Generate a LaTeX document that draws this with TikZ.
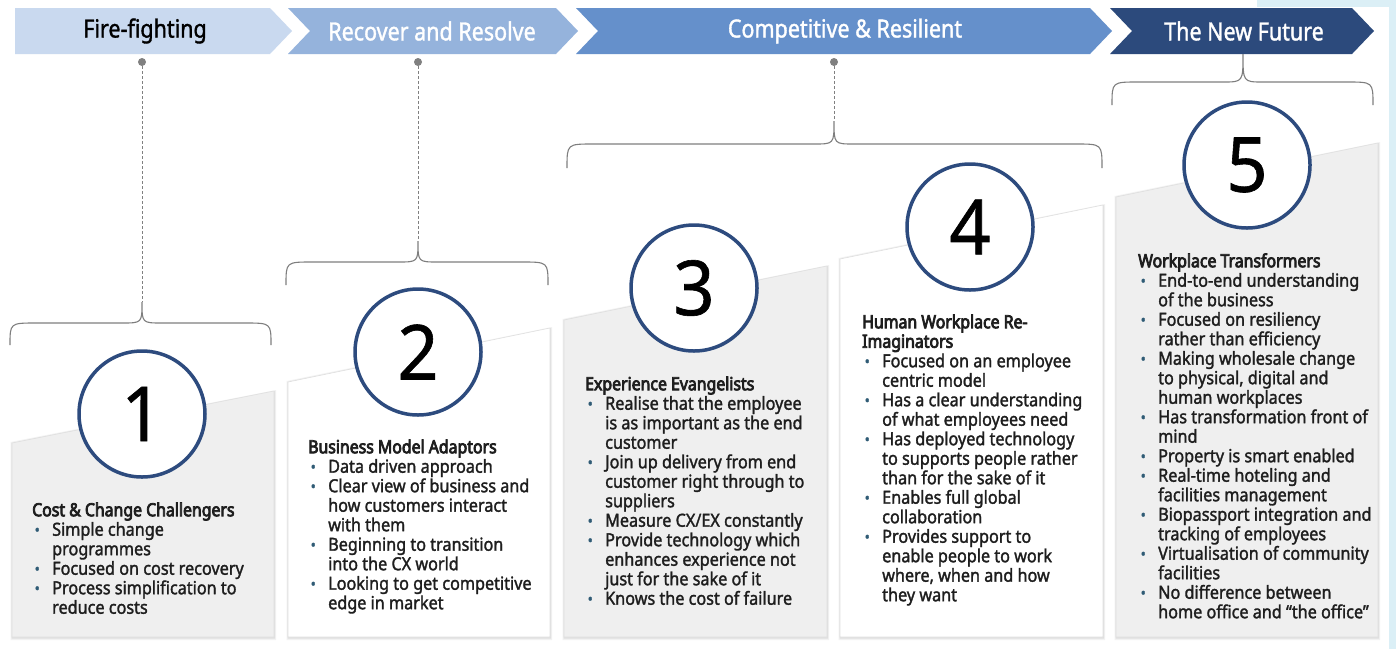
\documentclass[tikz,border=0pt]{standalone}
\usepackage{fontspec}
\setmainfont{Noto Sans}
\newfontfamily\bodyfont{Noto Sans}[FakeStretch=0.9]
\newfontfamily\titlefont{Noto Sans}[FakeStretch=0.88]
\newfontfamily\bannerfont{Noto Sans}[FakeStretch=0.86]
\newfontfamily\numfont{Noto Sans}[FakeStretch=0.95]

\definecolor{chevA}{HTML}{C9D9EF}
\definecolor{chevB}{HTML}{95B3DC}
\definecolor{chevC}{HTML}{6590CB}
\definecolor{chevD}{HTML}{2C4A7C}
\definecolor{ringc}{HTML}{2D4B7E}
\definecolor{cardg}{HTML}{EFEFEF}
\definecolor{edgeblue}{HTML}{DBEFF6}
\definecolor{bracec}{HTML}{7E7E7E}
\definecolor{dotc}{HTML}{808080}
\definecolor{bulletc}{HTML}{2F5B75}
\definecolor{txt}{HTML}{1E1E1E}

% text weight via fill+stroke rendering
\newcommand\weight[1]{\special{pdf:code 2 Tr #1 w}}
\newcommand\plainweight{\special{pdf:code 0 Tr}}

% bullet marker and hanging indent for wrapped lines
\newcommand\bul{\makebox[20pt][l]{\hspace{2.5pt}\textcolor{bulletc}{\fontsize{15}{15}\selectfont\raisebox{0.5pt}{•}}}}
\newcommand\cnt{\hspace*{20pt}}
\newcommand\ttl[1]{{\titlefont\special{pdf:code 0.75 w}#1\special{pdf:code 0.3 w}}}
\newcommand\firstline{\rule{0pt}{16pt}}

% curly brace: left x, right x, cusp x, cusp y, arm y, end y
\newcommand\curlybrace[6]{%
  \draw[bracestyle] (#1,#6) .. controls (#1,#5) .. ({#1+26},#5)
    -- ({#3-20},#5) .. controls (#3,#5) .. (#3,#4)
    .. controls (#3,#5) .. ({#3+20},#5)
    -- ({#2-26},#5) .. controls (#2,#5) .. (#2,#6);}

% card with slanted top and soft shadow
\newcommand\card[5]{%
  \fill[black,opacity=0.05] ({#1-1.5},{#3-1}) -- ({#2+2},{#4-1}) -- ({#2+2},640) -- ({#1-1.5},640) -- cycle;
  \fill[black,opacity=0.08] ({#1-0.5},#3) -- ({#2+1},#4) -- ({#2+1},638.5) -- ({#1-0.5},638.5) -- cycle;
  \fill[#5,draw=black!12,line width=0.6pt] (#1,#3) -- (#2,#4) -- (#2,637) -- (#1,637) -- cycle;}

\begin{document}
\begin{tikzpicture}[x=1pt,y=-1pt,
  bracestyle/.style={draw=bracec,line width=1.1pt},
  dashline/.style={draw=dotc,line width=0.9pt,dash pattern=on 3pt off 2pt},
  dotmark/.style={circle,fill=dotc,inner sep=0pt,minimum size=8pt},
  banner/.style={font=\bannerfont\fontsize{25}{25}\selectfont\weight{0.35},inner sep=0pt},
  ring/.style={circle,draw=ringc,line width=3.5pt,fill=white,minimum size=126pt,inner sep=0pt,
    font=\numfont\fontsize{76}{76}\selectfont\weight{0.6},text=black},
  cardtext/.style={anchor=north west,inner sep=0pt,align=left,text=txt,
    font=\bodyfont\fontsize{18}{19.5}\selectfont\weight{0.3}}]
\useasboundingbox (0,0) rectangle (1396,649);
\fill[white] (0,0) rectangle (1396,649);

% light edge band
\fill[edgeblue] (1257,0) rectangle (1396,7);
\fill[edgeblue] (1389,0) rectangle (1396,649);

% phase chevrons
\fill[chevA] (15,8) -- (270,8) -- (292,31) -- (270,54) -- (15,54) -- cycle;
\fill[chevB] (288,8) -- (556,8) -- (578,31) -- (556,54) -- (288,54) -- (310,31) -- cycle;
\fill[chevC] (576,8) -- (1090,8) -- (1112,31) -- (1090,54) -- (576,54) -- (598,31) -- cycle;
\fill[chevD] (1110,8) -- (1352,8) -- (1374,31) -- (1352,54) -- (1110,54) -- (1132,31) -- cycle;

\node[banner,text=black] (h1) at (145,31) {Fire-fighting\plainweight};
\node[banner,text=white] (h2) at (432,31) {Recover and Resolve\plainweight};
\node[banner,text=white] (h3) at (845,31) {Competitive \& Resilient\plainweight};
\node[banner,text=white] (h4) at (1244,31) {The New Future\plainweight};

% dotted leaders from the phases down to the braces
\node[dotmark] (d1) at (142,62) {};
\node[dotmark] (d2) at (418,62) {};
\node[dotmark] (d3) at (834,62) {};
\coordinate (b1) at (142,302);
\coordinate (b2) at (418,241);
\coordinate (b3) at (834,121);
\draw[dashline] (d1) -- (b1);
\draw[dashline] (d2) -- (b2);
\draw[dashline] (d3) -- (b3);

% braces
\curlybrace{10}{271}{142}{302}{323}{345}
\curlybrace{286}{548}{418}{241}{262}{285}
\curlybrace{567}{1102}{834}{121}{144}{168}
\curlybrace{1112}{1373}{1243}{54}{82}{105}

% cards
\card{12}{274}{443}{391}{cardg}
\card{288}{550}{382}{328}{white}
\card{564}{827}{320}{266}{cardg}
\card{840}{1103}{259}{205}{white}
\card{1116}{1378}{197}{143}{cardg}

% numbered rings
\node[ring] (n1) at (142,414) {1\plainweight};
\node[ring] (n2) at (418,352) {2\plainweight};
\node[ring] (n3) at (694,288) {3\plainweight};
\node[ring] (n4) at (970,227) {4\plainweight};
\node[ring] (n5) at (1247,165) {5\plainweight};

% card texts
\node[cardtext] (t1) at (32,500) {\firstline\ttl{Cost \& Change Challengers}\\
\bul Simple change\\
\cnt programmes\\
\bul Focused on cost recovery\\
\bul Process simplification to\\
\cnt reduce costs\plainweight};

\node[cardtext] (t2) at (308,437) {\firstline\ttl{Business Model Adaptors}\\
\bul Data driven approach\\
\bul Clear view of business and\\
\cnt how customers interact\\
\cnt with them\\
\bul Beginning to transition\\
\cnt into the CX world\\
\bul Looking to get competitive\\
\cnt edge in market\plainweight};

\node[cardtext] (t3) at (585,374) {\firstline\ttl{Experience Evangelists}\\
\bul Realise that the employee\\
\cnt is as important as the end\\
\cnt customer\\
\bul Join up delivery from end\\
\cnt customer right through to\\
\cnt suppliers\\
\bul Measure CX/EX constantly\\
\bul Provide technology which\\
\cnt enhances experience not\\
\cnt just for the sake of it\\
\bul Knows the cost of failure\plainweight};

\node[cardtext] (t4) at (862,312) {\firstline\ttl{Human Workplace Re-}\\
\ttl{Imaginators}\\
\bul Focused on an employee\\
\cnt centric model\\
\bul Has a clear understanding\\
\cnt of what employees need\\
\bul Has deployed technology\\
\cnt to supports people rather\\
\cnt than for the sake of it\\
\bul Enables full global\\
\cnt collaboration\\
\bul Provides support to\\
\cnt enable people to work\\
\cnt where, when and how\\
\cnt they want\plainweight};

\node[cardtext] (t5) at (1138,251) {\firstline\ttl{Workplace Transformers}\\
\bul End-to-end understanding\\
\cnt of the business\\
\bul Focused on resiliency\\
\cnt rather than efficiency\\
\bul Making wholesale change\\
\cnt to physical, digital and\\
\cnt human workplaces\\
\bul Has transformation front of\\
\cnt mind\\
\bul Property is smart enabled\\
\bul Real-time hoteling and\\
\cnt facilities management\\
\bul Biopassport integration and\\
\cnt tracking of employees\\
\bul Virtualisation of community\\
\cnt facilities\\
\bul No difference between\\
\cnt home office and “the office”\plainweight};
\end{tikzpicture}
\end{document}
